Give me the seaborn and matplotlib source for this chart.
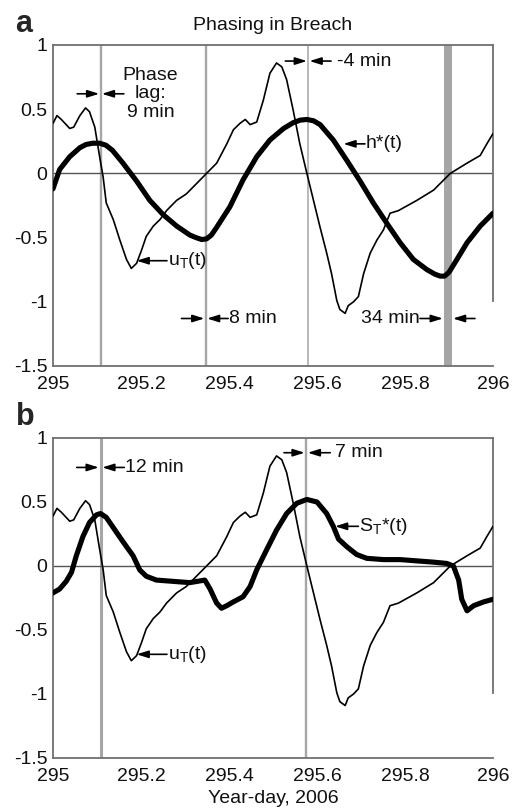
import numpy as np
import pandas as pd
import matplotlib
matplotlib.use("Agg")
import matplotlib.pyplot as plt
import seaborn as sns
from matplotlib.ticker import FuncFormatter

# u_T(t), thin line (same record in both panels)
day_u = [295.0, 295.009, 295.019, 295.038, 295.047, 295.061, 295.074, 295.083, 295.095,
         295.106, 295.114, 295.121, 295.137, 295.152, 295.167, 295.178, 295.19, 295.201,
         295.212, 295.228, 295.243, 295.258, 295.281, 295.303, 295.326, 295.349, 295.372,
         295.395, 295.41, 295.425, 295.437, 295.448, 295.463, 295.478, 295.493, 295.508,
         295.52, 295.531, 295.546, 295.561, 295.577, 295.592, 295.607, 295.622, 295.633,
         295.645, 295.652, 295.664, 295.671, 295.683, 295.694, 295.706, 295.721, 295.736,
         295.751, 295.766, 295.785, 295.827, 295.865, 295.903, 295.941, 295.971, 295.986, 296.0]
u_T = [0.39, 0.45, 0.42, 0.35, 0.36, 0.45, 0.51, 0.48, 0.36,
       0.13, -0.03, -0.23, -0.36, -0.52, -0.67, -0.74, -0.70, -0.60,
       -0.49, -0.41, -0.36, -0.29, -0.21, -0.16, -0.08, 0.0, 0.08,
       0.23, 0.34, 0.39, 0.42, 0.38, 0.40, 0.57, 0.78, 0.86,
       0.83, 0.73, 0.49, 0.23, 0.0, -0.21, -0.42, -0.62, -0.78,
       -0.99, -1.06, -1.09, -1.03, -1.0, -0.96, -0.78, -0.62, -0.52,
       -0.44, -0.31, -0.29, -0.21, -0.13, 0.0, 0.08, 0.14, 0.23, 0.31]

# h*(t), thick line in panel a
day_h = [295.0, 295.015, 295.038, 295.061, 295.075, 295.09, 295.106, 295.12, 295.135,
         295.159, 295.19, 295.22, 295.25, 295.281, 295.311, 295.325, 295.338, 295.349,
         295.36, 295.372, 295.402, 295.432, 295.463, 295.493, 295.524, 295.546, 295.562,
         295.577, 295.592, 295.607, 295.637, 295.668, 295.698, 295.728, 295.759, 295.789,
         295.819, 295.85, 295.868, 295.88, 295.89, 295.9, 295.918, 295.941, 295.971, 296.0]
h_star = [-0.12, 0.03, 0.13, 0.20, 0.225, 0.235, 0.235, 0.22, 0.18,
          0.08, -0.06, -0.21, -0.32, -0.41, -0.48, -0.50, -0.515, -0.51,
          -0.48, -0.42, -0.26, -0.05, 0.13, 0.26, 0.35, 0.395, 0.415,
          0.42, 0.41, 0.38, 0.26, 0.10, -0.06, -0.23, -0.39, -0.54,
          -0.67, -0.75, -0.785, -0.80, -0.80, -0.77, -0.67, -0.54, -0.41, -0.31]

# S_T*(t), thick line in panel b
day_s = [295.0, 295.015, 295.03, 295.042, 295.053, 295.068, 295.083, 295.099, 295.108,
         295.121, 295.137, 295.159, 295.182, 295.197, 295.212, 295.235, 295.273, 295.311,
         295.345, 295.357, 295.372, 295.383, 295.395, 295.41, 295.432, 295.448, 295.463,
         295.486, 295.508, 295.531, 295.554, 295.577, 295.6, 295.622, 295.637, 295.649,
         295.668, 295.69, 295.713, 295.751, 295.789, 295.827, 295.865, 295.895, 295.91,
         295.922, 295.929, 295.941, 295.956, 295.979, 296.0]
s_T = [-0.21, -0.18, -0.12, -0.05, 0.08, 0.23, 0.34, 0.40, 0.41,
       0.38, 0.30, 0.19, 0.08, -0.03, -0.08, -0.11, -0.12, -0.13,
       -0.11, -0.18, -0.29, -0.33, -0.31, -0.28, -0.24, -0.16, -0.03,
       0.13, 0.28, 0.41, 0.49, 0.52, 0.50, 0.41, 0.31, 0.21,
       0.15, 0.09, 0.06, 0.05, 0.05, 0.04, 0.03, 0.02, 0.0,
       -0.11, -0.26, -0.35, -0.31, -0.28, -0.26]

# vertical reference lines (year-day) and their widths
lines_a = [295.108, 295.347, 295.580]
widths_a = [1.7, 1.7, 1.1]
band_a = (295.888, 295.907)
lines_b = [295.108, 295.575]
widths_b = [2.2, 1.7]

sns.set_style("white")
plt.rcParams['font.family'] = ['Liberation Sans', 'DejaVu Sans']
plt.rcParams['mathtext.default'] = 'regular'

fs = 14
gray = '#707070'
lgray = '#a6a6a6'
ink = '#111111'

fig = plt.figure(figsize=(5.16, 8.11), dpi=100)
ax_a = fig.add_axes([53/516, 1-366/811, 440/516, 321/811])
ax_b = fig.add_axes([53/516, 1-758/811, 440/516, 320/811])


def style(ax):
    ax.set_xlim(295, 296)
    ax.set_ylim(-1.5, 1)
    ax.set_xticks(np.arange(295, 296.01, 0.2))
    ax.set_yticks(np.arange(-1.5, 1.01, 0.5))
    fmt = FuncFormatter(lambda v, p: '%g' % round(v, 3))
    ax.xaxis.set_major_formatter(fmt)
    ax.yaxis.set_major_formatter(fmt)
    ax.tick_params(direction='in', length=4, width=1, color=gray, labelsize=fs,
                   labelcolor=ink)
    ax.tick_params(axis='x', pad=7)
    ax.tick_params(axis='y', pad=4)
    for s in ax.spines.values():
        s.set_color(gray)
        s.set_linewidth(1.3)
    ax.spines['right'].set_bounds(-0.99, 1)
    ax.axhline(0, color='#555555', lw=1, zorder=1)
    ax.set_xlabel('')
    ax.set_ylabel('')


def arrow(ax, tail, tip, y):
    ax.annotate('', xy=(tip, y), xytext=(tail, y),
                arrowprops=dict(arrowstyle='-|>,head_length=0.7,head_width=0.22',
                                color='black', lw=1.2, shrinkA=0, shrinkB=0))


def label(ax, x, y, s, ha='left'):
    ax.text(x, y, s, fontsize=fs, ha=ha, va='center', color=ink)


# ---- panel a ----
for x, w in zip(lines_a, widths_a):
    ax_a.axvline(x, color=lgray, lw=w, zorder=1)
ax_a.axvspan(band_a[0], band_a[1], color=lgray, lw=0, zorder=1)
sns.lineplot(x=day_u, y=u_T, ax=ax_a, color='black', lw=1.2, zorder=3)
sns.lineplot(x=day_h, y=h_star, ax=ax_a, color='black', lw=3.7, zorder=3)
style(ax_a)

ax_a.text(295.222, 0.62, 'Phase\nlag:\n9 min', fontsize=fs, ha='center', va='center',
          linespacing=1.1, color=ink)
arrow(ax_a, 295.055, 295.105, 0.62)
arrow(ax_a, 295.161, 295.111, 0.62)

arrow(ax_a, 295.528, 295.577, 0.875)
arrow(ax_a, 295.632, 295.583, 0.875)
label(ax_a, 295.645, 0.875, '-4 min')

arrow(ax_a, 295.709, 295.660, 0.23)
label(ax_a, 295.711, 0.23, 'h*(t)')

arrow(ax_a, 295.259, 295.19, -0.68)
label(ax_a, 295.261, -0.68, 'u$_T$(t)')

arrow(ax_a, 295.292, 295.344, -1.13)
arrow(ax_a, 295.398, 295.350, -1.13)
label(ax_a, 295.399, -1.13, '8 min')

label(ax_a, 295.834, -1.13, '34 min', ha='right')
arrow(ax_a, 295.834, 295.886, -1.13)
arrow(ax_a, 295.959, 295.909, -1.13)

ax_a.text(0.5, 1 + 15/321, 'Phasing in Breach', transform=ax_a.transAxes,
          fontsize=fs, ha='center', va='baseline', color=ink)
fig.text(15/516, 1 - 32/811, 'a', fontsize=22, fontweight='bold', va='baseline')

# ---- panel b ----
for x, w in zip(lines_b, widths_b):
    ax_b.axvline(x, color=lgray, lw=w, zorder=1)
sns.lineplot(x=day_u, y=u_T, ax=ax_b, color='black', lw=1.2, zorder=3)
sns.lineplot(x=day_s, y=s_T, ax=ax_b, color='black', lw=3.7, zorder=3)
style(ax_b)

arrow(ax_b, 295.054, 295.104, 0.77)
arrow(ax_b, 295.162, 295.112, 0.77)
label(ax_b, 295.163, 0.77, '12 min')

arrow(ax_b, 295.525, 295.572, 0.885)
arrow(ax_b, 295.630, 295.579, 0.885)
label(ax_b, 295.641, 0.885, '7 min')

arrow(ax_b, 295.694, 295.641, 0.31)
label(ax_b, 295.696, 0.31, 'S$_T$*(t)')

arrow(ax_b, 295.259, 295.19, -0.69)
label(ax_b, 295.261, -0.69, 'u$_T$(t)')

ax_b.set_xlabel('Year-day, 2006', fontsize=fs, labelpad=4, color=ink)
fig.text(16/516, 1 - 425/811, 'b', fontsize=22, fontweight='bold', va='baseline')

fig.savefig('out.png', dpi=100)
